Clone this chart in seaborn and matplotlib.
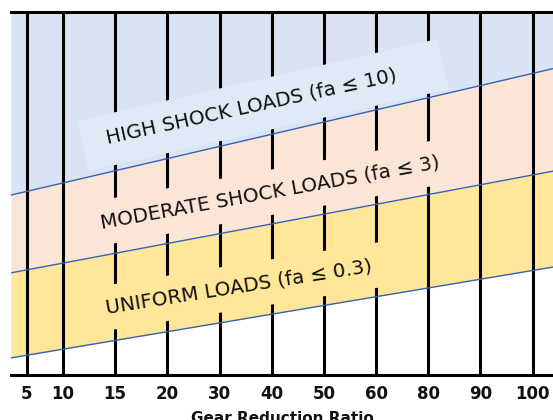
import numpy as np
import pandas as pd
import matplotlib.pyplot as plt
import matplotlib.patches as mpatches
import seaborn as sns

# 数据：齿轮减速比刻度
ratios = ['5', '10', '15', '20', '30', '40', '50', '60', '80', '90', '100']
ratio_pos = [0.31, 1, 2, 3, 4, 5, 6, 7, 8, 9, 10]

# 三条分界线（左端、右端的值）
edge_x = [0, 10.39]
high_lower = [4.95, 8.43]
moderate_lower = [2.81, 5.61]
uniform_lower = [0.47, 2.97]

labels = ['HIGH SHOCK LOADS (fa \u2264 10)',
          'MODERATE SHOCK LOADS (fa \u2264 3)',
          'UNIFORM LOADS (fa \u2264 0.3)']

# 颜色
c_high = '#dae3f3'
c_mod = '#fbe5d6'
c_uni = '#ffe699'
c_box = '#deebf7'
c_line = '#3563b0'

sns.set_theme(style='white')
plt.rcParams['font.family'] = ['DejaVu Sans']

W, H = 553, 420
fig = plt.figure(figsize=(W / 100, H / 100), dpi=100)
ax = fig.add_axes([10.8 / W, (H - 375) / H, 1 - 10.8 / W, (375 - 11.6) / H])
ax.set_xlim(edge_x[0], edge_x[1])
ax.set_ylim(0, 10)

# 色带
ax.fill_between(edge_x, high_lower, 10, color=c_high, lw=0, zorder=1)
ax.fill_between(edge_x, moderate_lower, high_lower, color=c_mod, lw=0, zorder=1)
ax.fill_between(edge_x, uniform_lower, moderate_lower, color=c_uni, lw=0, zorder=1)

# 竖线
ax.vlines(ratio_pos, 0, 10, color='black', lw=2.2, zorder=2)

# 分界线
df = pd.DataFrame({
    'x': edge_x * 3,
    'y': high_lower + moderate_lower + uniform_lower,
    'boundary': ['high'] * 2 + ['moderate'] * 2 + ['uniform'] * 2,
})
sns.lineplot(data=df, x='x', y='y', hue='boundary', palette=[c_line] * 3,
             lw=1.0, legend=False, ax=ax, zorder=4)

# HIGH 标签背景框（像素坐标）
cx, cy, bl, bh, ang = 263, 105, 369, 51.5, np.deg2rad(12.8)
u = np.array([np.cos(ang), -np.sin(ang)])
v = np.array([np.sin(ang), np.cos(ang)])
c = np.array([cx, cy])
pts = [c - u * bl / 2 - v * bh / 2, c + u * bl / 2 - v * bh / 2,
       c + u * bl / 2 + v * bh / 2, c - u * bl / 2 + v * bh / 2]
pts = [(p[0] / W, 1 - p[1] / H) for p in pts]
ax.add_patch(mpatches.Polygon(pts, closed=True, fc=c_box, ec='none',
                              transform=fig.transFigure, zorder=5))

fs = 14.3
ax.text(4.62, 7.4, labels[0], rotation=12.3, rotation_mode='anchor',
        ha='center', va='center', fontsize=fs, color='#111111', zorder=6)
ax.text(4.97, 5.02, labels[1], rotation=10.2, rotation_mode='anchor',
        ha='center', va='center', fontsize=fs, color='#111111', zorder=3,
        bbox=dict(boxstyle='square,pad=0.65', fc=c_mod, ec='none'))
ax.text(4.37, 2.42, labels[2], rotation=9.0, rotation_mode='anchor',
        ha='center', va='center', fontsize=fs, color='#111111', zorder=3,
        bbox=dict(boxstyle='square,pad=0.65', fc=c_uni, ec='none'))

# 坐标轴
ax.set_xticks(ratio_pos)
ax.set_xticklabels(ratios, fontsize=12, fontweight='bold', color='#111111')
ax.set_yticks([])
ax.set_ylabel('')
ax.tick_params(axis='x', length=0, pad=7)
ax.set_xlabel('Gear Reduction Ratio', fontsize=11, fontweight='bold',
              color='#111111', labelpad=6)
for s in ['left', 'right']:
    ax.spines[s].set_visible(False)
for s in ['top', 'bottom']:
    ax.spines[s].set_color('black')
    ax.spines[s].set_linewidth(2.2)
    ax.spines[s].set_zorder(7)

fig.savefig('out.png', dpi=100)
